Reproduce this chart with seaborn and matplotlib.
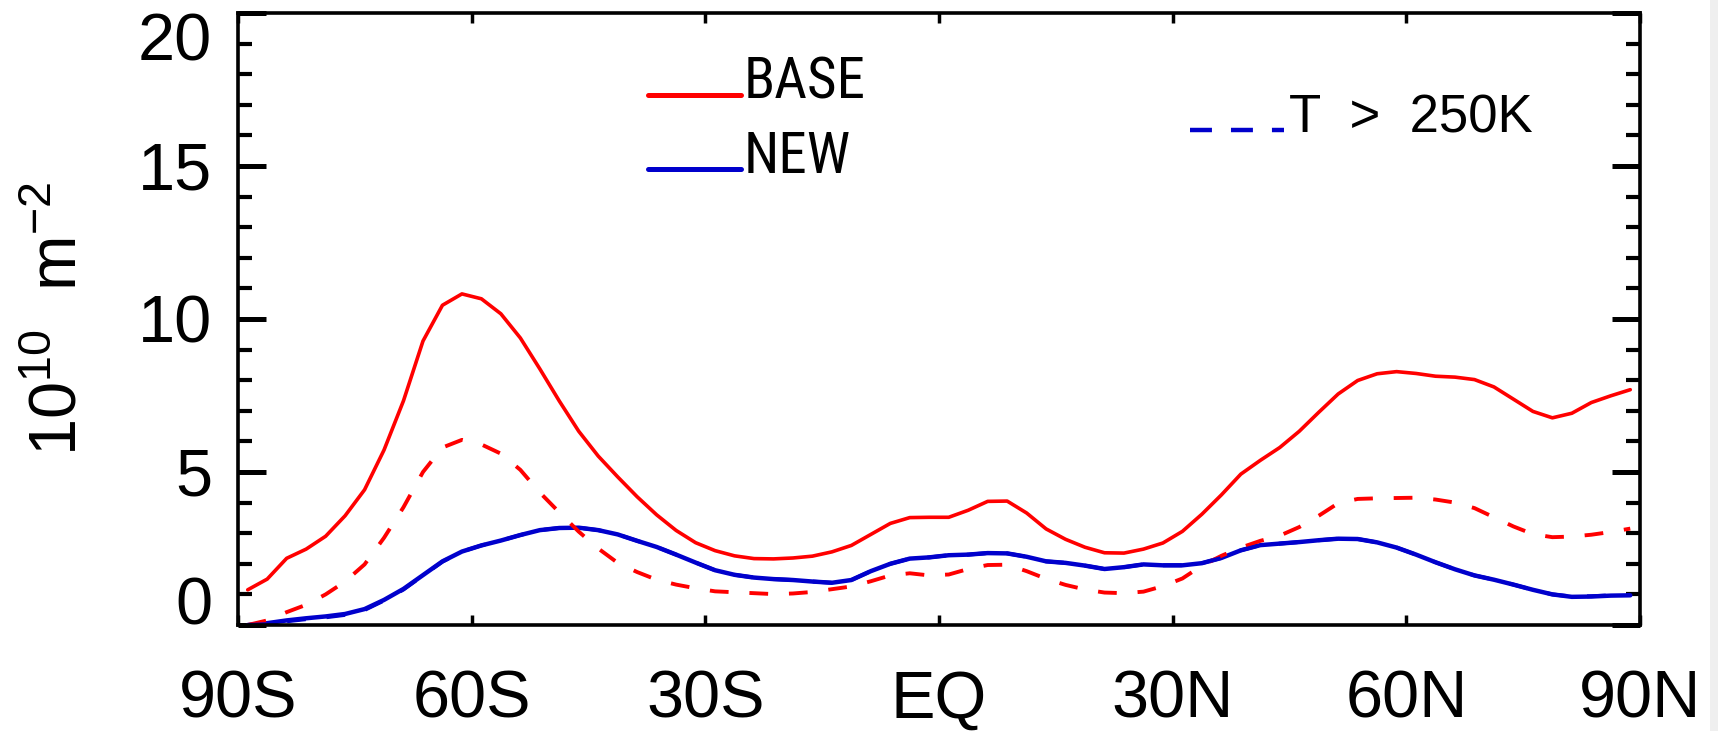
import os
import numpy as np
import pandas as pd
import matplotlib
matplotlib.use("Agg")
import matplotlib.pyplot as plt
import seaborn as sns
from matplotlib.ticker import MultipleLocator
from matplotlib.lines import Line2D
from matplotlib.legend_handler import HandlerLine2D
from matplotlib import font_manager as fm

# ---- zonal-mean ice crystal number (10^10 m^-2) on a 2.5 degree latitude grid ----
lat = np.arange(-88.75, 90.0, 2.5)

base = [1.15, 1.50, 2.18, 2.48, 2.90, 3.57, 4.42, 5.72, 7.33, 9.28, 10.45, 10.82,
        10.66, 10.17, 9.38, 8.37, 7.32, 6.33, 5.52, 4.84, 4.19, 3.60, 3.09, 2.69,
        2.43, 2.26, 2.17, 2.16, 2.19, 2.25, 2.39, 2.60, 2.96, 3.32, 3.51, 3.52,
        3.52, 3.75, 4.04, 4.05, 3.66, 3.14, 2.80, 2.54, 2.36, 2.35, 2.48, 2.68,
        3.06, 3.62, 4.25, 4.93, 5.38, 5.80, 6.33, 6.95, 7.55, 7.99, 8.21, 8.28,
        8.22, 8.13, 8.10, 8.02, 7.78, 7.38, 6.98, 6.77, 6.92, 7.27, 7.49, 7.69]

base_warm = [0.00, 0.15, 0.42, 0.66, 1.00, 1.42, 1.98, 2.85, 3.85, 5.00, 5.80, 6.05,
             5.90, 5.60, 5.07, 4.33, 3.68, 3.05, 2.50, 2.03, 1.73, 1.48, 1.32, 1.20,
             1.10, 1.07, 1.04, 1.01, 1.03, 1.08, 1.17, 1.26, 1.43, 1.62, 1.69, 1.62,
             1.65, 1.83, 1.96, 1.97, 1.76, 1.51, 1.31, 1.16, 1.06, 1.04, 1.09, 1.27,
             1.52, 1.94, 2.26, 2.53, 2.75, 2.92, 3.20, 3.57, 3.98, 4.12, 4.14, 4.15,
             4.16, 4.10, 4.00, 3.82, 3.52, 3.22, 2.97, 2.87, 2.89, 2.95, 3.04, 3.15]

new = [0.00, 0.06, 0.15, 0.22, 0.28, 0.36, 0.52, 0.82, 1.18, 1.63, 2.08, 2.40,
       2.60, 2.76, 2.94, 3.10, 3.17, 3.18, 3.10, 2.96, 2.75, 2.55, 2.30, 2.04,
       1.79, 1.64, 1.55, 1.50, 1.47, 1.42, 1.38, 1.47, 1.76, 2.00, 2.17, 2.21,
       2.28, 2.30, 2.35, 2.34, 2.23, 2.08, 2.03, 1.94, 1.83, 1.89, 1.98, 1.95,
       1.95, 2.02, 2.19, 2.44, 2.61, 2.66, 2.71, 2.77, 2.82, 2.81, 2.70, 2.53,
       2.30, 2.05, 1.82, 1.62, 1.48, 1.32, 1.15, 1.00, 0.92, 0.93, 0.96, 0.97]

new_warm = [0.00, 0.03, 0.12, 0.19, 0.25, 0.33, 0.49, 0.80, 1.16, 1.62, 2.07, 2.40,
            2.60, 2.76, 2.94, 3.10, 3.17, 3.18, 3.10, 2.96, 2.75, 2.55, 2.30, 2.04,
            1.79, 1.64, 1.55, 1.50, 1.47, 1.42, 1.38, 1.47, 1.76, 2.00, 2.17, 2.21,
            2.28, 2.30, 2.35, 2.34, 2.23, 2.08, 2.03, 1.94, 1.83, 1.89, 1.98, 1.95,
            1.95, 2.02, 2.19, 2.44, 2.61, 2.66, 2.71, 2.77, 2.82, 2.81, 2.70, 2.53,
            2.30, 2.05, 1.82, 1.62, 1.48, 1.32, 1.15, 1.00, 0.93, 0.94, 0.97, 0.98]

xtick_pos = [-90, -60, -30, 0, 30, 60, 90]
xtick_lab = ["90S", "60S", "30S", "EQ", "30N", "60N", "90N"]
ytick_pos = [0, 5, 10, 15, 20]

RED = "#ff0000"
BLUE = "#0000cc"


def pick_font(names, default="DejaVu Sans"):
    for name in names:
        try:
            fm.findfont(fm.FontProperties(family=name), fallback_to_default=False)
            return name
        except ValueError:
            continue
    return default


def find_narrow_file():
    """Return the path of an installed narrow sans-serif face, if any."""
    wanted = ["liberationsansnarrow-regular", "robotocondensed-regular",
              "notosans-condensed.", "dejavusanscondensed.", "notosans-semicondensed.",
              "opensans-condensed"]
    files = [f.fname for f in fm.fontManager.ttflist]
    for key in wanted:
        for path in files:
            if os.path.basename(path).lower().startswith(key):
                return path
    return None


sns.set_style("ticks")
main_font = pick_font(["Liberation Sans", "Noto Sans"])
plt.rcParams["font.family"] = [main_font, "DejaVu Sans"]
plt.rcParams["mathtext.fontset"] = "custom"
plt.rcParams["mathtext.rm"] = main_font
plt.rcParams["mathtext.it"] = main_font
plt.rcParams["mathtext.default"] = "regular"
plt.rcParams["lines.scale_dashes"] = False
plt.rcParams["axes.edgecolor"] = "black"
plt.rcParams["text.color"] = "black"
plt.rcParams["axes.labelcolor"] = "black"
plt.rcParams["xtick.color"] = "black"
plt.rcParams["ytick.color"] = "black"

df = pd.DataFrame({"lat": lat, "BASE": base, "NEW": new,
                   "BASE_T250": base_warm, "NEW_T250": new_warm})

fig = plt.figure(figsize=(17.18, 7.31), dpi=100)
fig.patch.set_facecolor("white")
ax = fig.add_axes([0.13853, 0.14501, 0.81607, 0.83721])

dash = (0, (13.5, 15.0))
sns.lineplot(data=df, x="lat", y="BASE", color=RED, lw=2.6, estimator=None, ax=ax)
sns.lineplot(data=df, x="lat", y="NEW", color=BLUE, lw=3.2, estimator=None, ax=ax)
sns.lineplot(data=df, x="lat", y="BASE_T250", color=RED, lw=2.8, linestyle=dash,
             estimator=None, ax=ax)
sns.lineplot(data=df, x="lat", y="NEW_T250", color=BLUE, lw=2.8, linestyle=dash,
             estimator=None, ax=ax)

ax.set_xlim(-90, 90)
ax.set_ylim(0, 20)
ax.set_xlabel("")
ax.set_xticks(xtick_pos)
ax.set_xticklabels(xtick_lab)
ax.set_yticks(ytick_pos)
ax.set_yticklabels([str(v) for v in ytick_pos])
ax.yaxis.set_minor_locator(MultipleLocator(1))

for s in ax.spines.values():
    s.set_visible(True)
    s.set_linewidth(2.6)
    s.set_color("black")

ax.tick_params(axis="x", which="major", direction="in", length=7, width=2.5,
               top=True, bottom=True, labelsize=48, pad=32, colors="black")
ax.tick_params(axis="x", which="minor", bottom=False, top=False)
ax.tick_params(axis="y", which="major", direction="in", length=20, width=3.6,
               left=True, right=True, labelsize=48, pad=18.5, colors="black")
ax.tick_params(axis="y", which="minor", direction="in", length=10, width=3.0,
               left=True, right=True)

ylabs = ax.get_yticklabels()
ylabs[0].set_va("baseline")
ylabs[-1].set_va("top")

ax.set_ylabel(r"$10^{10}\ \ m^{-2}$", fontsize=48, color="black")
ax.yaxis.set_label_coords(-0.105, 0.5)


class BaselineLine(HandlerLine2D):
    """Legend line sitting near the text baseline instead of its middle."""

    def __init__(self, shift, **kw):
        super().__init__(**kw)
        self.shift = shift

    def create_artists(self, legend, orig_handle, xdescent, ydescent, width,
                       height, fontsize, trans):
        arts = super().create_artists(legend, orig_handle, xdescent, ydescent,
                                      width, height, fontsize, trans)
        for a in arts:
            a.set_ydata(np.asarray(a.get_ydata(), dtype=float) - self.shift)
        return arts


# legend face: a narrow sans, sized so that "BASE" is about 123 px wide
narrow_path = find_narrow_file()
if narrow_path:
    leg_prop = fm.FontProperties(fname=narrow_path, size=41)
else:
    leg_prop = fm.FontProperties(family=pick_font(["Roboto", main_font]), size=41)
renderer = fig.canvas.get_renderer()
probe = fig.text(0, 0, "BASE", fontproperties=leg_prop)
w = probe.get_window_extent(renderer).width
probe.remove()
leg_size = min(41.0, 41.0 * 123.0 / w)
leg_prop.set_size(leg_size)
shift1 = 12 * leg_size / 41.0

h_base = Line2D([], [], color=RED, lw=3.6)
h_new = Line2D([], [], color=BLUE, lw=3.6)
leg1 = ax.legend([h_base, h_new], ["BASE", "NEW"], loc="upper left",
                 bbox_to_anchor=(0.2924, 0.931), frameon=False, borderpad=0,
                 borderaxespad=0, handlelength=1.63 * 41.0 / leg_size,
                 handletextpad=0.05, labelspacing=0.34 * 41.0 / leg_size,
                 prop=leg_prop, labelcolor="black",
                 handler_map={Line2D: BaselineLine(shift1)})
ax.add_artist(leg1)

h_warm = Line2D([], [], color=BLUE, lw=3.2, linestyle=(0, (15.8, 13.7)))
leg2 = ax.legend([h_warm], ["T  >  250K"], loc="upper left",
                 bbox_to_anchor=(0.679, 0.869), frameon=False, borderpad=0,
                 borderaxespad=0, handlelength=1.78, handletextpad=0.1,
                 prop=dict(family=main_font, size=38), labelcolor="black",
                 handler_map={Line2D: BaselineLine(12)})

fig.add_artist(plt.Rectangle((1710 / 1718, 0), 8 / 1718, 1, transform=fig.transFigure,
                             color="#efefef", lw=0))

fig.savefig("out.png", dpi=100)
